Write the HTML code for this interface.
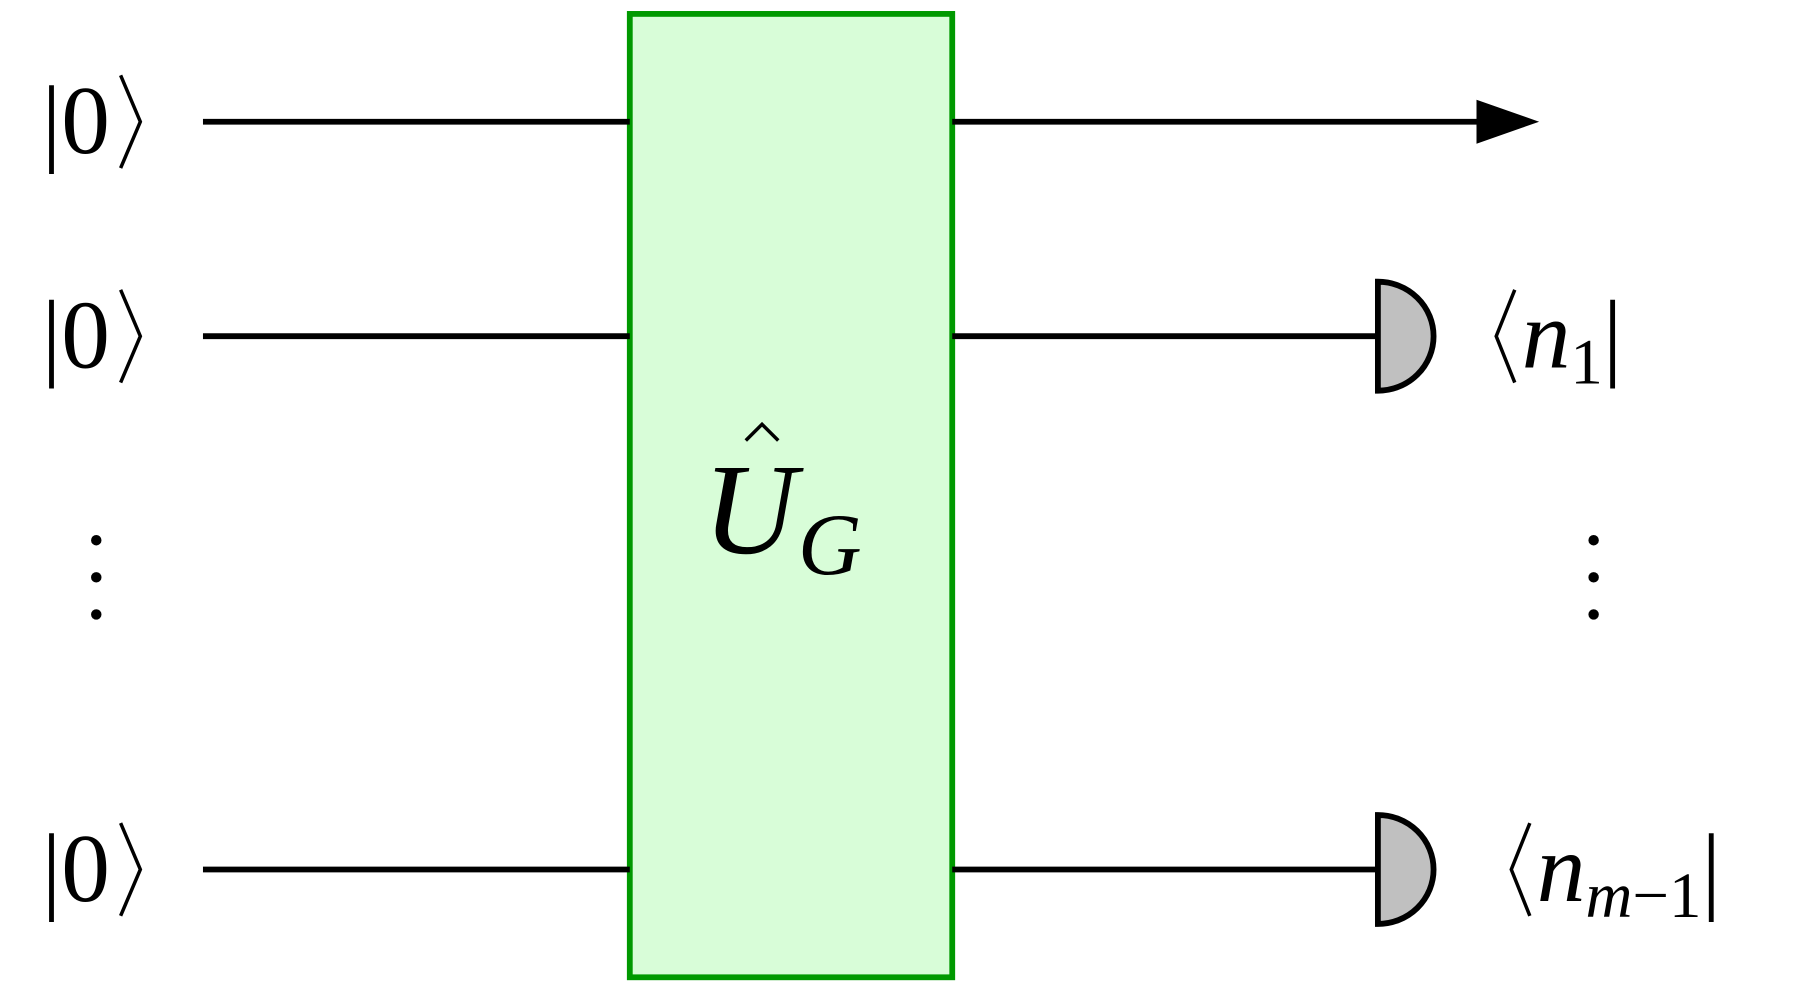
<!DOCTYPE html>
<html><head><meta charset="utf-8"><style>
html,body{margin:0;padding:0;background:#fff;}
svg{display:block;}
text{font-family:"Liberation Serif",serif;fill:#000;}
</style></head><body>
<svg width="1814" height="997" viewBox="0 0 1564 860" preserveAspectRatio="none" xmlns="http://www.w3.org/2000/svg">
<rect x="543" y="12" width="278" height="831" fill="#d8fdd8" stroke="#009900" stroke-width="5"/>
<g stroke="#000" stroke-width="5">
<line x1="175" y1="105" x2="543" y2="105"/>
<line x1="175" y1="290" x2="543" y2="290"/>
<line x1="175" y1="750" x2="543" y2="750"/>
<line x1="821" y1="105" x2="1285" y2="105"/>
<line x1="821" y1="290" x2="1188" y2="290"/>
<line x1="821" y1="750" x2="1188" y2="750"/>
</g>
<polygon points="1273,86 1327,105 1273,124" fill="#000"/>
<path d="M1188,243 A48,47 0 0 1 1188,337 Z" fill="#c0c0c0" stroke="#000" stroke-width="5"/>
<path d="M1188,703 A48,47 0 0 1 1188,797 Z" fill="#c0c0c0" stroke="#000" stroke-width="5"/>
<g font-size="84">
<text x="36" y="132">|0</text>
<text x="36" y="317">|0</text>
<text x="36" y="777">|0</text>
<text x="1312" y="317" font-style="italic">n<tspan font-size="56" dy="14" font-style="normal">1</tspan><tspan dy="-14" font-style="normal">|</tspan></text>
<text x="1325" y="777" font-style="italic">n<tspan font-size="56" dy="14">m</tspan><tspan font-size="56" font-style="normal">−1</tspan><tspan dy="-14" font-style="normal">|</tspan></text>
</g>
<g fill="none" stroke="#000" stroke-width="3">
<polyline points="104,65 121,105 104,145"/>
<polyline points="104,250 121,290 104,330"/>
<polyline points="104,710 121,750 104,790"/>
<polyline points="1306,250 1290,290 1306,330"/>
<polyline points="1319,710 1303,750 1319,790"/>
</g>
<g fill="#000">
<circle cx="83" cy="466" r="4.5"/><circle cx="83" cy="498" r="4.5"/><circle cx="83" cy="530" r="4.5"/>
<circle cx="1374" cy="466" r="4.5"/><circle cx="1374" cy="498" r="4.5"/><circle cx="1374" cy="530" r="4.5"/>
</g>
<text x="606" y="477" font-size="112" font-style="italic">U</text>
<text x="688" y="495" font-size="76" font-style="italic">G</text>
<polyline points="643,380 657,366 671,380" fill="none" stroke="#000" stroke-width="3"/>
</svg>
</body></html>
